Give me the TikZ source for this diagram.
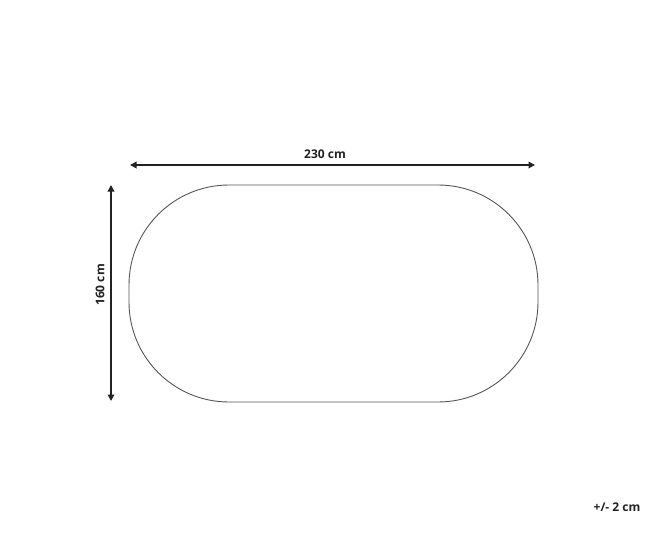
\documentclass[tikz,border=0pt]{standalone}
\usepackage{fontspec}
\setmainfont{Open Sans}
\usetikzlibrary{arrows.meta}
\definecolor{ink}{HTML}{222222}
\definecolor{rim}{HTML}{555555}
\begin{document}
\begin{tikzpicture}[x=1pt,y=-1pt,
  dimline/.style={ink,line width=1.8pt,{Triangle[length=6.5pt,width=6.5pt]}-{Triangle[length=6.5pt,width=6.5pt]}},
  dimtext/.style={ink,font=\fontsize{12}{14}\selectfont\bfseries,inner sep=0pt}]
\useasboundingbox (0,0) rectangle (650,551);
% Rug outline
\node[draw=rim,line width=.9pt,rounded corners=100pt,minimum width=409pt,minimum height=217pt,inner sep=0pt] (rug) at (333.5,293.5) {};
% Dimension arrows
\coordinate (wl) at (130,165);
\coordinate (wr) at (535,165);
\coordinate (ht) at (111,185);
\coordinate (hb) at (111,401);
\draw[dimline] (wl) -- (wr);
\draw[dimline] (ht) -- (hb);
\node[dimtext] (width) at (325,154) {230 cm};
\node[dimtext,rotate=90] (height) at (100,285) {160 cm};
\node[dimtext] (tol) at (617,507) {+/- 2 cm};
\end{tikzpicture}
\end{document}
